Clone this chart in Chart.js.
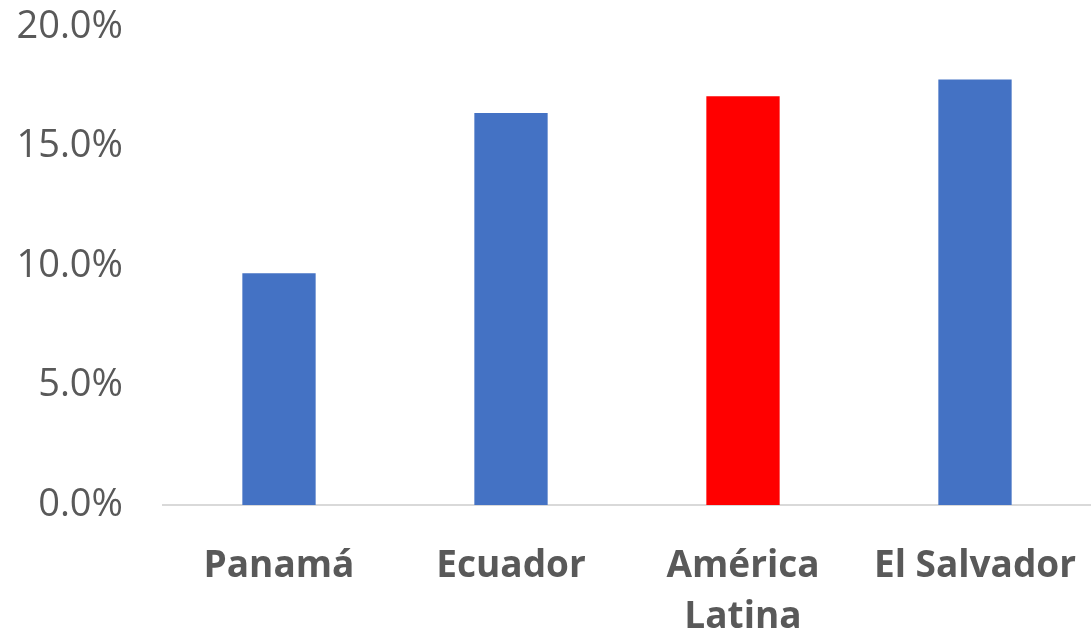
<!DOCTYPE html>
<html>
<head>
<meta charset="utf-8">
<style>
  html, body { margin: 0; padding: 0; background: #fff; }
  #wrap { width: 1091px; height: 636px; }
</style>
<script src="https://cdn.jsdelivr.net/npm/chart.js@4"></script>
</head>
<body>
<div id="wrap"><canvas id="myChart"></canvas></div>
<script>
let categories = [['Panamá'], ['Ecuador'], ['América', 'Latina'], ['El Salvador']];
let values = [9.7, 16.4, 17.1, 17.8];
let barColors = ['#4472C4', '#4472C4', '#FF0000', '#4472C4'];
let yTicks = [0, 5, 10, 15, 20];

let ctx = document.getElementById('myChart').getContext('2d');

let myChart = new Chart(ctx, {
    type: 'bar',
    data: {
        labels: categories,
        datasets: [{
            data: values,
            backgroundColor: barColors,
            categoryPercentage: 1,
            barPercentage: 0.316
        }]
    },
    options: {
        responsive: true,
        maintainAspectRatio: false,
        animation: false,
        layout: {
            padding: { top: 27, right: 0, left: 0, bottom: 0 }
        },
        plugins: {
            legend: { display: false },
            tooltip: { enabled: false }
        },
        scales: {
            y: {
                min: 0,
                max: 20,
                afterBuildTicks: (axis) => {
                    axis.ticks = yTicks.map(v => ({ value: v }));
                },
                afterFit: (axis) => {
                    axis.width = 163;
                    axis.paddingTop = 0;
                    axis.paddingBottom = 0;
                },
                grid: { display: false, drawTicks: false },
                border: { display: false },
                ticks: {
                    padding: 40,
                    color: '#595959',
                    font: { family: 'Open Sans', size: 38 },
                    callback: (value) => value.toFixed(1) + '%'
                }
            },
            x: {
                afterFit: (axis) => {
                    axis.height = 131;
                    axis.paddingLeft = 0;
                    axis.paddingRight = 0;
                },
                grid: { display: false, drawTicks: false },
                border: { display: true, color: '#D9D9D9', width: 2 },
                ticks: {
                    padding: 36,
                    color: '#595959',
                    maxRotation: 0,
                    font: { family: 'Open Sans', size: 37, weight: 'bold', lineHeight: 1.38 }
                }
            }
        }
    }
});
</script>
</body>
</html>
